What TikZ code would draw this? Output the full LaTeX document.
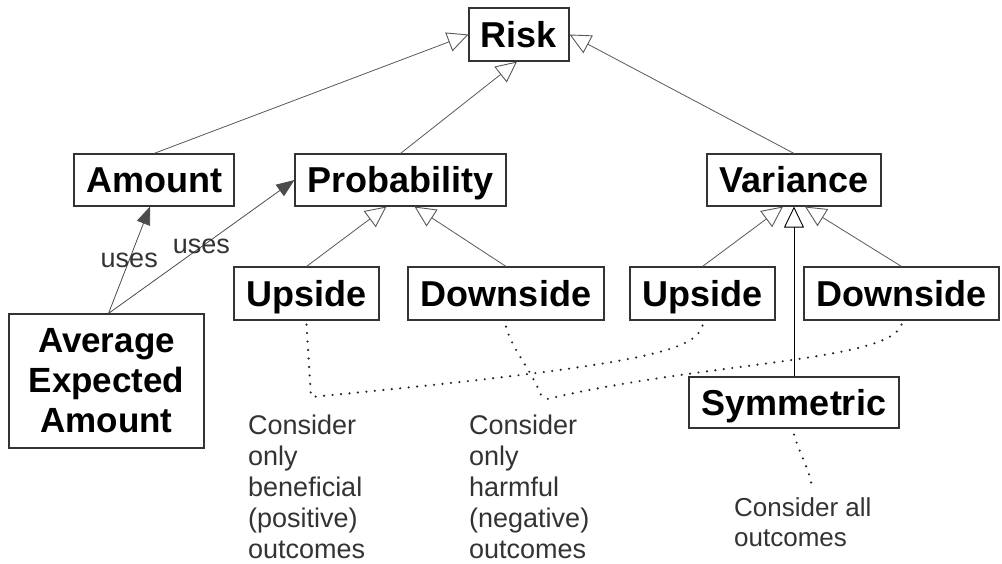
\documentclass[tikz,border=0pt]{standalone}
\usepackage{fontspec}
\setmainfont{Liberation Sans}
\usetikzlibrary{arrows.meta}
\begin{document}
\begin{tikzpicture}[x=1pt,y=-1pt,
 box/.style={draw=black!80, line width=1.1pt, inner sep=0pt, font=\fontsize{36}{40}\selectfont\bfseries, text height=25pt, text depth=0pt},
 bigbox/.style={draw=black!80, line width=1.1pt, inner sep=0pt, font=\fontsize{35}{40}\selectfont\bfseries, align=center},
 gen/.style={draw=black!65, line width=0.8pt, -{Triangle[open,length=21pt,width=20pt,line width=0.9pt]}},
 genbold/.style={draw=black, line width=1pt, -{Triangle[open,length=21pt,width=20pt,line width=0.9pt]}},
 uses/.style={draw=black!70, line width=0.8pt, -{Triangle[length=18pt,width=14pt]}},
 lbl/.style={inner sep=0pt, text=black!80, font=\fontsize{27}{31}\selectfont},
 note/.style={inner sep=0pt, align=left, text=black!80, font=\fontsize{27}{31}\selectfont, anchor=north west},
 dots/.style={draw=black!85, line width=2.4pt, line cap=round, dash pattern=on 0pt off 8.5pt}
]
\useasboundingbox[fill=white] (0,0) rectangle (1002,563);

\node[box, minimum width=100pt, minimum height=53pt] (risk) at (519,34.5) {Risk};
\node[box, minimum width=160pt, minimum height=52pt] (amount) at (154,180) {Amount};
\node[box, minimum width=211pt, minimum height=52pt] (prob) at (400.5,180) {Probability};
\node[box, minimum width=174pt, minimum height=52pt] (var) at (794,180) {Variance};
\node[box, minimum width=145pt, minimum height=53pt] (upL) at (306.5,293.5) {Upside};
\node[box, minimum width=196pt, minimum height=53pt] (downL) at (506,293.5) {Downside};
\node[box, minimum width=145pt, minimum height=53pt] (upR) at (702.5,293.5) {Upside};
\node[box, minimum width=195pt, minimum height=53pt] (downR) at (901.5,293.5) {Downside};
\node[bigbox, minimum width=195pt, minimum height=134pt] (aea) at (106.5,381) {Average\\Expected\\Amount};
\node[box, minimum width=210pt, minimum height=51pt] (sym) at (794,402.5) {Symmetric};

\draw[gen] (amount.north) -- (risk.west);
\draw[gen] (prob.north) -- ([xshift=-2pt]risk.south);
\draw[gen] (var.north) -- (risk.east);
\draw[gen] (upL.north) -- ([xshift=-14pt]prob.south);
\draw[gen] (downL.north) -- ([xshift=14pt]prob.south);
\draw[gen] (upR.north) -- ([xshift=-11pt]var.south);
\draw[gen] (downR.north) -- ([xshift=11pt]var.south);
\draw[genbold] (sym.north) -- (var.south);

\draw[uses] ([xshift=2pt]aea.north) -- ([xshift=-4pt]amount.south) node[lbl, midway] {uses};
\draw[uses] ([xshift=2pt]aea.north) -- (prob.west) node[lbl, midway] {uses};

\node[note] (n1) at (248,415) {Consider\\only\\beneficial\\(positive)\\outcomes};
\node[note] (n2) at (469,415) {Consider\\only\\harmful\\(negative)\\outcomes};
\node[note, font=\fontsize{26}{30}\selectfont] (n3) at (734,497) {Consider all\\outcomes};

\coordinate (c1) at (311,397);
\coordinate (c2) at (543,400);
\coordinate (c3) at (812,488);

\draw[dots] ([yshift=-4pt]upL.south) -- (c1);
\draw[dots] ([yshift=-5pt]upR.south) .. controls (695,350) and (650,365) .. (c1);
\draw[dots] ([yshift=-6pt]downL.south) .. controls (512,350) and (532,370) .. (c2);
\draw[dots] ([yshift=-4pt]downR.south) .. controls (890,362) and (700,362) .. (c2);
\draw[dots] ([yshift=-6pt]sym.south) .. controls (800,455) and (810,470) .. (c3);
\end{tikzpicture}
\end{document}
